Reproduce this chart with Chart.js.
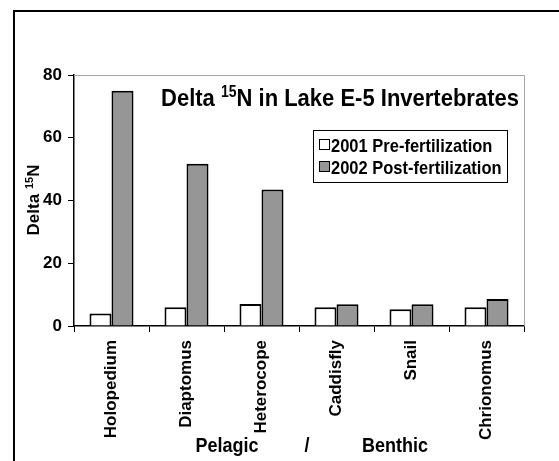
<!DOCTYPE html>
<html><head><meta charset="utf-8">
<script src="https://cdn.jsdelivr.net/npm/chart.js@4"></script>
<style>html,body{margin:0;padding:0;background:#fff}canvas{display:block}</style>
</head><body>
<canvas id="c" width="559" height="461"></canvas>
<script>
const categories = ['Holopedium','Diaptomus','Heterocope','Caddisfly','Snail','Chrionomus'];
const pre2001 = [4, 6, 7, 6, 5.3, 6];
const post2002 = [75, 51.7, 43.5, 6.9, 6.9, 8.6];
const seriesLabels = ['2001 Pre-fertilization','2002 Post-fertilization'];
const seriesColors = ['#ffffff','#969696'];
const yMin = 0, yMax = 80, yStep = 20;
const titleParts = ['Delta ','15','N in Lake E-5 Invertebrates'];
const yTitleParts = ['Delta ','15','N'];
const xTitleParts = ['Pelagic','/','Benthic'];

const FONT = '"Liberation Sans", Arial, sans-serif';
const SY = 1.12; // slight vertical stretch of the reference lettering

function supWidth(ctx, parts, size){
  ctx.font = 'bold ' + size + 'px ' + FONT;
  let w = ctx.measureText(parts[0]).width + ctx.measureText(parts[2]).width;
  ctx.font = 'bold ' + Math.round(size*0.62) + 'px ' + FONT;
  w += ctx.measureText(parts[1]).width;
  return w;
}
function drawSup(ctx, parts, size, x, y){
  ctx.textAlign = 'left'; ctx.textBaseline = 'alphabetic';
  ctx.font = 'bold ' + size + 'px ' + FONT;
  ctx.fillText(parts[0], x, y); x += ctx.measureText(parts[0]).width;
  ctx.font = 'bold ' + Math.round(size*0.62) + 'px ' + FONT;
  ctx.fillText(parts[1], x, y - size*0.38); x += ctx.measureText(parts[1]).width;
  ctx.font = 'bold ' + size + 'px ' + FONT;
  ctx.fillText(parts[2], x, y);
}
function stretched(ctx, x, y, fn){
  ctx.save(); ctx.translate(x, y); ctx.scale(1, SY); fn(); ctx.restore();
}

const decor = {
  id: 'decor',
  afterDraw(chart){
    const ctx = chart.ctx, a = chart.chartArea;
    ctx.save();
    ctx.fillStyle = '#000';
    // page frame
    ctx.fillRect(13, 10, 2, 461 - 10);
    ctx.fillRect(13, 10, 559 - 13, 2);
    // plot area border (top/right)
    ctx.strokeStyle = '#a6a6a6'; ctx.lineWidth = 1;
    ctx.beginPath();
    ctx.moveTo(a.left, a.top + 0.5); ctx.lineTo(a.right + 0.5, a.top + 0.5); ctx.lineTo(a.right + 0.5, a.bottom);
    ctx.stroke();
    // title
    ctx.fillStyle = '#000';
    const tw = supWidth(ctx, titleParts, 22);
    stretched(ctx, 340 - tw/2, 106, () => drawSup(ctx, titleParts, 22, 0, 0));
    // legend
    ctx.strokeStyle = '#000'; ctx.lineWidth = 1;
    ctx.fillStyle = '#fff';
    ctx.fillRect(313.5, 130.5, 194, 52);
    ctx.strokeRect(313.5, 130.5, 194, 52);
    const rows = [145, 167];
    for (let i = 0; i < seriesLabels.length; i++){
      ctx.fillStyle = seriesColors[i];
      ctx.fillRect(319.5, rows[i]-5.5, 10, 10);
      ctx.strokeRect(319.5, rows[i]-5.5, 10, 10);
      ctx.fillStyle = '#000';
      stretched(ctx, 331, rows[i] + 6.5, () => {
        ctx.font = 'bold 16.5px ' + FONT;
        ctx.textAlign = 'left'; ctx.textBaseline = 'alphabetic';
        ctx.fillText(seriesLabels[i], 0, 0);
      });
    }
    // y title
    ctx.save();
    ctx.translate(39, 200);
    ctx.rotate(-Math.PI/2);
    ctx.fillStyle = '#000';
    const yw = supWidth(ctx, yTitleParts, 17);
    drawSup(ctx, yTitleParts, 17, -yw/2, 0);
    ctx.restore();
    // x title
    ctx.fillStyle = '#000';
    const xt = [[xTitleParts[0], 227], [xTitleParts[1], 307], [xTitleParts[2], 395]];
    for (const [t, x] of xt){
      stretched(ctx, x, 452, () => {
        ctx.font = 'bold 18px ' + FONT;
        ctx.textAlign = 'center'; ctx.textBaseline = 'alphabetic';
        ctx.fillText(t, 0, 0);
      });
    }
    ctx.restore();
  }
};

new Chart(document.getElementById('c'), {
  type: 'bar',
  data: {
    labels: categories,
    datasets: [
      { label: seriesLabels[0], data: pre2001, backgroundColor: seriesColors[0], borderColor: '#000', borderWidth: 2, borderSkipped: 'bottom' },
      { label: seriesLabels[1], data: post2002, backgroundColor: seriesColors[1], borderColor: '#000', borderWidth: 2, borderSkipped: 'bottom' }
    ]
  },
  options: {
    responsive: false, animation: false,
    devicePixelRatio: 1,
    layout: { padding: { left: 0, top: 75, right: 35, bottom: 0 } },
    datasets: { bar: { categoryPercentage: 0.587, barPercentage: 1 } },
    plugins: { legend: { display: false }, title: { display: false }, tooltip: { enabled: false } },
    scales: {
      x: {
        afterFit(s){ s.height = 135; },
        grid: { display: true, drawOnChartArea: false, drawTicks: true, tickLength: 6, color: '#000', offset: true },
        border: { color: '#000', width: 1.5 },
        ticks: { minRotation: 90, maxRotation: 90, autoSkip: false, padding: 8, color: '#000', font: { family: FONT, size: 17, weight: 'bold' } }
      },
      y: {
        min: yMin, max: yMax,
        afterFit(s){ s.width = 74; },
        grid: { display: true, drawOnChartArea: false, drawTicks: true, tickLength: 6, color: '#000' },
        border: { color: '#000', width: 1.5 },
        ticks: { stepSize: yStep, padding: 6, color: '#000', font: { family: FONT, size: 17, weight: 'bold' } }
      }
    }
  },
  plugins: [decor]
});
</script>
</body></html>
